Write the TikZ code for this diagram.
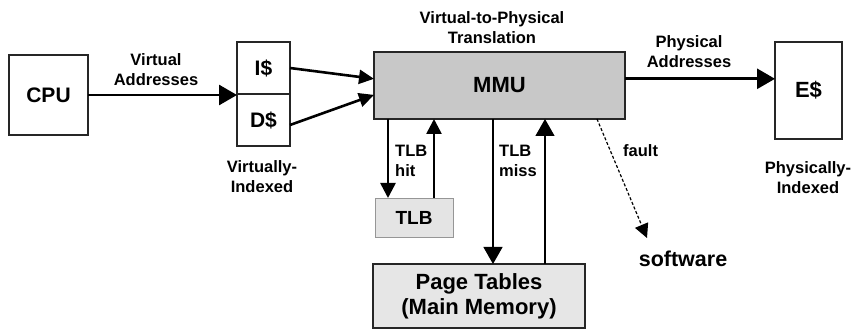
\documentclass[tikz,border=0pt]{standalone}
\usepackage{fontspec}
\setmainfont{Liberation Sans}
\usetikzlibrary{arrows.meta,calc}
\definecolor{mmugray}{RGB}{200,200,200}
\definecolor{tlbgray}{RGB}{228,228,228}
\definecolor{tlbborder}{RGB}{150,150,150}
\definecolor{ptgray}{RGB}{230,230,230}
\begin{document}
\begin{tikzpicture}[x=1pt,y=-1pt,
  box/.style={draw=black!85, line width=1.1pt, inner sep=0pt, outer sep=0pt, font=\bfseries\fontsize{21}{24}\selectfont},
  lbl/.style={inner sep=0pt, align=center, font=\bfseries\fontsize{16.5}{20}\selectfont},
  thickarr/.style={line width=2.8pt, -{Triangle[length=18pt,width=20pt]}},
  medarr/.style={line width=2.6pt, -{Triangle[length=15pt,width=14pt]}},
  hitarr/.style={line width=2.6pt, -{Triangle[length=15pt,width=15pt]}},
  thinarr/.style={line width=1.3pt, -{Triangle[length=17pt,width=19pt]}},
  faultarr/.style={line width=1.2pt, dash pattern=on 3pt off 2pt, -{Triangle[length=14pt,width=14pt]}}
]
\useasboundingbox (0,0) rectangle (855,331);
% boxes
\node[box, minimum width=79pt, minimum height=80pt] (cpu) at (48.5,95) {CPU};
\node[box, minimum width=53pt, minimum height=52pt] (ic) at (263.5,68) {I\$};
\node[box, minimum width=53pt, minimum height=52pt] (dc) at (263.5,120) {D\$};
\node[box, fill=mmugray, minimum width=251pt, minimum height=67pt, font=\bfseries\fontsize{22}{24}\selectfont] (mmu) at (499.5,85.5) {MMU};
\node[box, draw=tlbborder, line width=0.8pt, fill=tlbgray, minimum width=78pt, minimum height=39pt, font=\bfseries\fontsize{19}{21}\selectfont] (tlb) at (414,217.5) {TLB};
\node[box, fill=ptgray, minimum width=212pt, minimum height=64pt, align=center, font=\bfseries\fontsize{22}{25}\selectfont] (pt) at (479,296) {Page Tables\\(Main Memory)};
\node[box, minimum width=67pt, minimum height=97pt, font=\bfseries\fontsize{22}{24}\selectfont] (es) at (808.5,90.5) {\raisebox{-8pt}{E\$}};
% labels
\node[lbl] (va) at (156,70) {Virtual\\Addresses};
\node[lbl] (vi) at (262,177) {Virtually-\\Indexed};
\node[lbl] (v2p) at (492,28) {Virtual-to-Physical\\Translation};
\node[lbl, align=left, anchor=west] (hit) at (395,161) {TLB\\hit};
\node[lbl, align=left, anchor=west] (miss) at (499,161) {TLB\\miss};
\node[lbl, anchor=west] (flt) at (623,151) {fault};
\node[lbl, font=\bfseries\fontsize{21.5}{24}\selectfont] (sw) at (683,259) {software};
\node[lbl] (pa) at (689,52) {Physical\\Addresses};
\node[lbl] (pi) at (808,178) {Physically-\\Indexed};
% connectors
\draw[thickarr] (cpu.east) -- (cpu.east -| ic.west);
\draw[medarr] (ic.east) -- ($(mmu.north west)!0.40!(mmu.south west)$);
\draw[medarr] ([yshift=-5pt]dc.east) -- ($(mmu.north west)!0.64!(mmu.south west)$);
\coordinate (hd) at (388,0);
\coordinate (hu) at (434,0);
\coordinate (md) at (493,0);
\coordinate (mu) at (545,0);
\draw[hitarr] (hd |- mmu.south) -- (hd |- tlb.north);
\draw[hitarr] (hu |- tlb.north) -- (hu |- mmu.south);
\draw[thinarr] (md |- mmu.south) -- (md |- pt.north);
\draw[thinarr] (mu |- pt.north) -- (mu |- mmu.south);
\coordinate (fs) at (597,119);
\coordinate (fe) at (647,238);
\draw[faultarr] (fs) -- (fe);
\coordinate (po) at ($(mmu.north east)!0.40!(mmu.south east)$);
\draw[thickarr] (po) -- (po -| es.west);
\end{tikzpicture}
\end{document}
